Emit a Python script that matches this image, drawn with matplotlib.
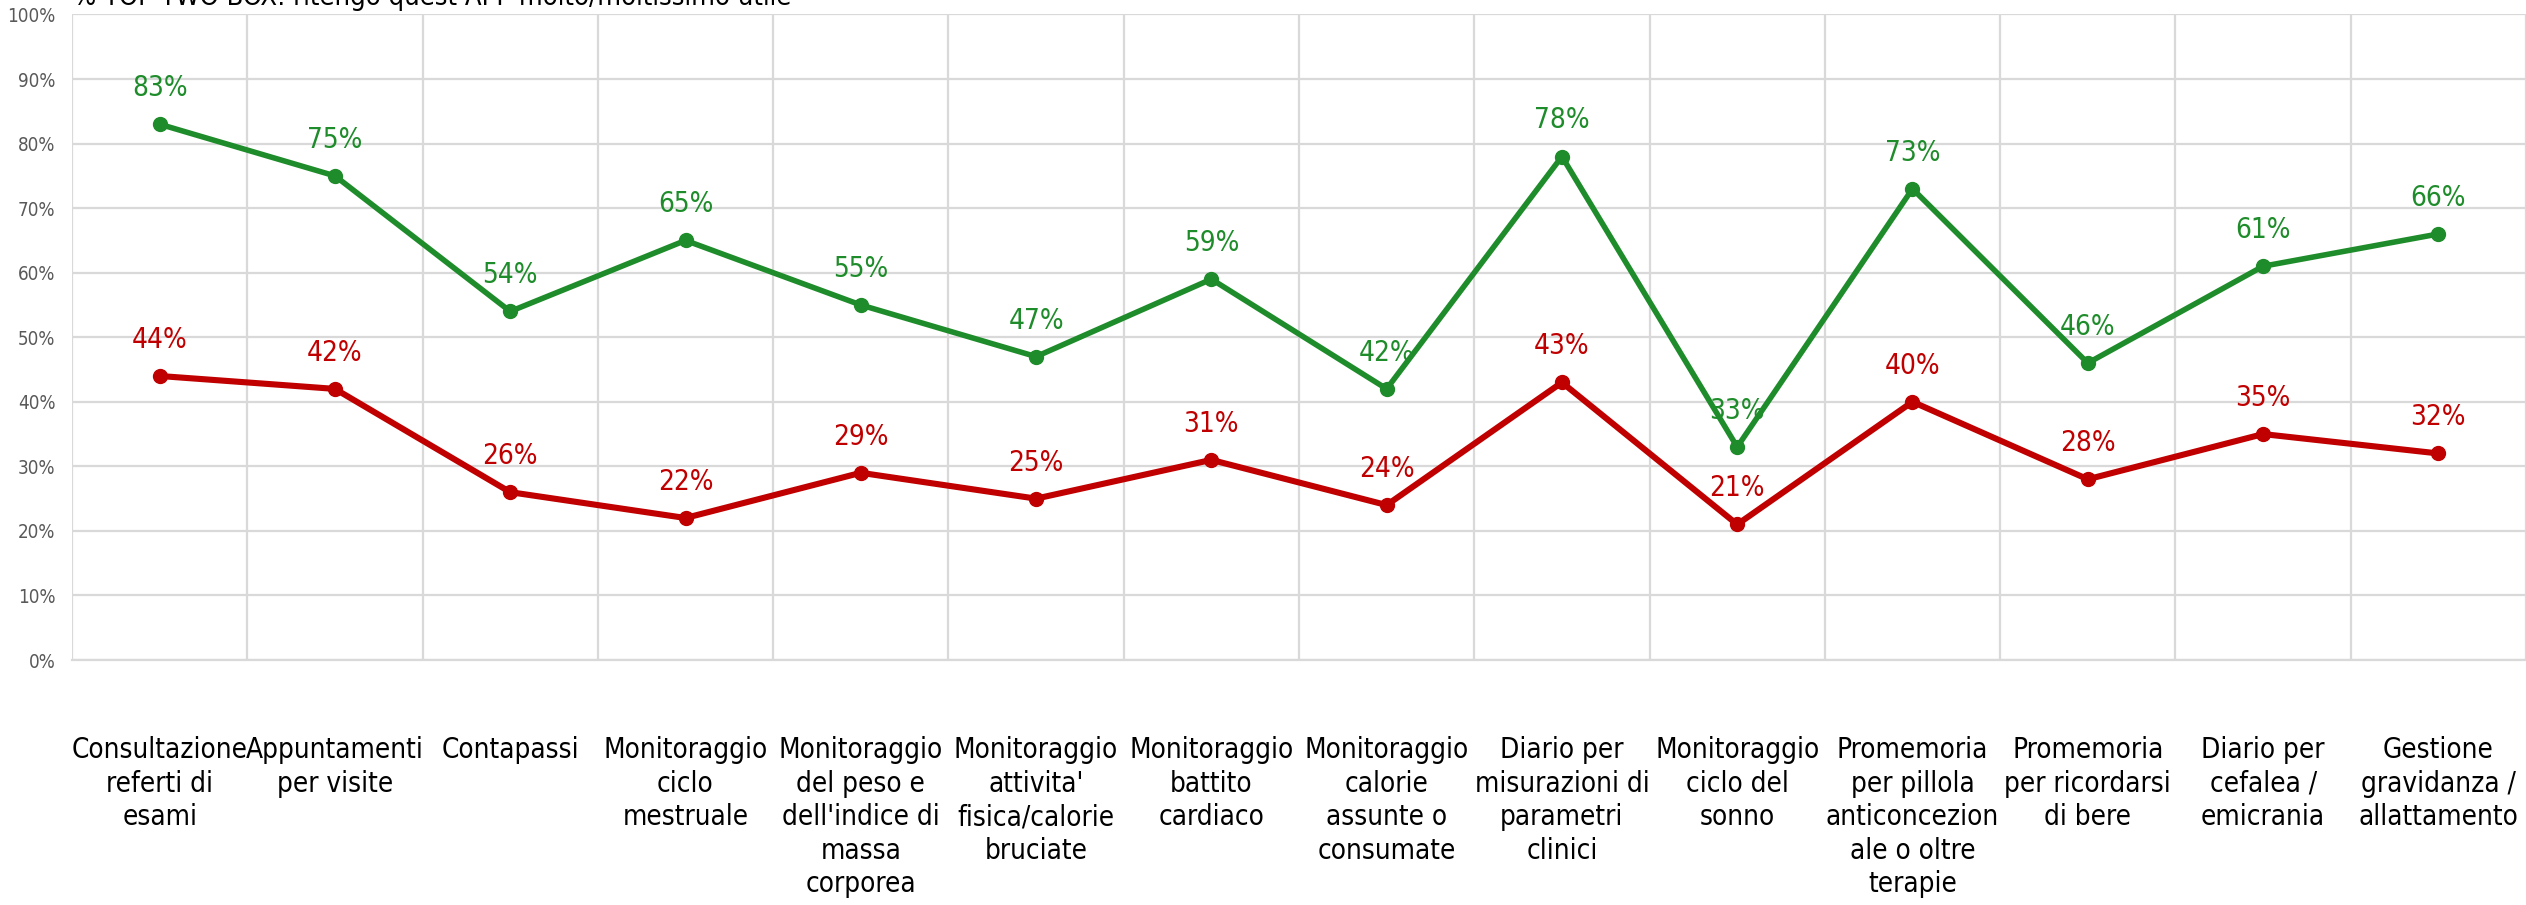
import matplotlib
matplotlib.use('Agg')
import matplotlib.pyplot as plt
import numpy as np

# categories and values
Categorie = ["Consultazione\nreferti di\nesami",
             "Appuntamenti\nper visite",
             "Contapassi",
             "Monitoraggio\nciclo\nmestruale",
             "Monitoraggio\ndel peso e\ndell'indice di\nmassa\ncorporea",
             "Monitoraggio\nattivita'\nfisica/calorie\nbruciate",
             "Monitoraggio\nbattito\ncardiaco",
             "Monitoraggio\ncalorie\nassunte o\nconsumate",
             "Diario per\nmisurazioni di\nparametri\nclinici",
             "Monitoraggio\nciclo del\nsonno",
             "Promemoria\nper pillola\nanticoncezion\nale o oltre\nterapie",
             "Promemoria\nper ricordarsi\ndi bere",
             "Diario per\ncefalea /\nemicrania",
             "Gestione\ngravidanza /\nallattamento"]
Verde = [83, 75, 54, 65, 55, 47, 59, 42, 78, 33, 73, 46, 61, 66]
Rosso = [44, 42, 26, 22, 29, 25, 31, 24, 43, 21, 40, 28, 35, 32]
Titolo = "% TOP TWO BOX: ritengo quest APP molto/moltissimo utile"

plt.rcParams['font.family'] = ['DejaVu Sans']
plt.rcParams['font.stretch'] = 'condensed'

fig = plt.figure(figsize=(25.26, 9.05), dpi=100)
ax = fig.add_axes([72/2526, 1-660/905, 1-72/2526, (660-14.5)/905])

x = np.arange(len(Categorie))
ax.plot(x, Verde, '-o', color='#1E8C2A', lw=4.0, ms=10, zorder=3)
ax.plot(x, Rosso, '-o', color='#C00000', lw=4.4, ms=10, zorder=3)

for i in range(len(x)):
    ax.annotate(str(Verde[i])+'%', (x[i], Verde[i]), xytext=(0, 26), textcoords='offset points',
                ha='center', va='center', color='#1E8C2A', fontsize=20, fontstretch='condensed', zorder=4)
    ax.annotate(str(Rosso[i])+'%', (x[i], Rosso[i]), xytext=(0, 26), textcoords='offset points',
                ha='center', va='center', color='#C00000', fontsize=20, fontstretch='condensed', zorder=4)

ax.set_xlim(-0.5, len(x)-0.5)
ax.set_ylim(0, 100)
ax.set_yticks(np.arange(0, 101, 10))
ax.set_yticklabels([str(v)+'%' for v in range(0, 101, 10)], color='#595959', fontsize=13.5,
                   fontstretch='condensed')
ax.set_xticks(x)
ax.set_xticklabels(Categorie, fontsize=20, linespacing=1.25, va='top', fontstretch='condensed')
ax.set_xticks(np.arange(-0.5, len(x), 1), minor=True)
ax.tick_params(axis='x', which='major', length=0, pad=55)
ax.tick_params(axis='x', which='minor', length=0)
ax.tick_params(axis='y', length=0, pad=12)
ax.grid(True, axis='y', which='major', color='#D9D9D9', lw=1.6)
ax.grid(True, axis='x', which='minor', color='#D9D9D9', lw=1.6)
for s in ['top', 'right', 'left']:
    ax.spines[s].set_visible(False)
ax.spines['bottom'].set_color('#D9D9D9')
ax.spines['bottom'].set_linewidth(1.6)

fig.text(73/2526, 1-5/905, Titolo, fontsize=19.5, va='baseline', ha='left', color='black',
         fontstretch='condensed')

fig.savefig('out.png', dpi=100)
